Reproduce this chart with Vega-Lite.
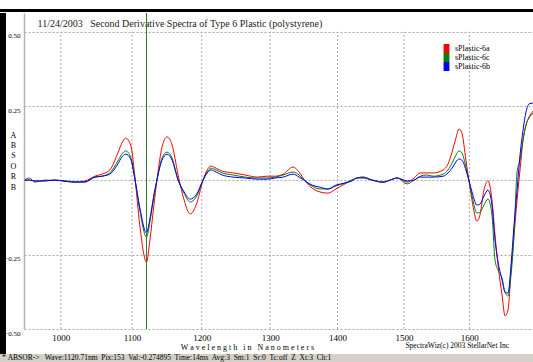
{
  "$schema": "https://vega.github.io/schema/vega-lite/v6.json",
  "background": "white",
  "padding": {"left": 0, "top": 9, "right": 0, "bottom": 0},
  "config": {"view": {"stroke": null}, "font": "Liberation Serif", "title": {"fontWeight": "normal", "font": "Liberation Serif"}},
  "spacing": 0,
  "bounds": "full",
  "vconcat": [
    {
      "width": 533, "height": 3,
      "view": {"fill": "#000000"},
      "data": {"values": []},
      "mark": {"type": "point", "opacity": 0, "size": 0}
    },
    {
      "hconcat": [
        {
          "width": 6, "height": 341,
          "view": {"fill": "#000000"},
          "data": {"values": []},
          "mark": {"type": "point", "opacity": 0, "size": 0}
        },
        {
          "width": 509, "height": 316,
          "title": {"text": "SpectraWiz(c) 2003 StellarNet Inc", "orient": "bottom", "frame": "group", "anchor": "end", "dx": -24, "offset": -9, "baseline": "top", "font": "Liberation Serif", "fontSize": 7.5, "fontWeight": "normal", "color": "#000000"},
          "resolve": {"axis": {"x": "independent"}},
          "layer": [
            {
              "data": {"values": [{"nm": 1000}, {"nm": 1100}, {"nm": 1200}, {"nm": 1300}, {"nm": 1400}, {"nm": 1500}, {"nm": 1600}]},
              "mark": {"type": "rule", "color": "#a9a9a9", "strokeDash": [2, 2], "strokeWidth": 1},
              "encoding": {
                "x": {"field": "nm", "type": "quantitative", "scale": {"type": "pow", "exponent": 0.786, "domain": [949, 1698.6], "nice": false, "zero": false}, "axis": null},
                "y": {"datum": -0.5, "type": "quantitative"}, "y2": {"datum": 0.5}
              }
            },
            {
              "data": {"values": [
                {"nm": 950, "sPlastic-6a": 0.000, "sPlastic-6c": 0.002, "sPlastic-6b": 0.001},
                {"nm": 956.7, "sPlastic-6a": 0.001, "sPlastic-6c": 0.008, "sPlastic-6b": 0.001},
                {"nm": 963.7, "sPlastic-6a": -0.002, "sPlastic-6c": -0.006, "sPlastic-6b": -0.002},
                {"nm": 977.6, "sPlastic-6a": -0.002, "sPlastic-6c": 0.001, "sPlastic-6b": -0.002},
                {"nm": 991.6, "sPlastic-6a": 0.001, "sPlastic-6c": 0.000, "sPlastic-6b": 0.001},
                {"nm": 1005.6, "sPlastic-6a": -0.002, "sPlastic-6c": -0.002, "sPlastic-6b": -0.003},
                {"nm": 1019.6, "sPlastic-6a": -0.006, "sPlastic-6c": -0.005, "sPlastic-6b": -0.006},
                {"nm": 1033.7, "sPlastic-6a": -0.002, "sPlastic-6c": -0.006, "sPlastic-6b": -0.005},
                {"nm": 1047.7, "sPlastic-6a": 0.014, "sPlastic-6c": 0.011, "sPlastic-6b": 0.011},
                {"nm": 1057.5, "sPlastic-6a": 0.021, "sPlastic-6c": 0.014, "sPlastic-6b": 0.014},
                {"nm": 1068.7, "sPlastic-6a": 0.035, "sPlastic-6c": 0.025, "sPlastic-6b": 0.021},
                {"nm": 1080.0, "sPlastic-6a": 0.092, "sPlastic-6c": 0.065, "sPlastic-6b": 0.055},
                {"nm": 1085.6, "sPlastic-6a": 0.125, "sPlastic-6c": 0.088, "sPlastic-6b": 0.078},
                {"nm": 1091.2, "sPlastic-6a": 0.142, "sPlastic-6c": 0.099, "sPlastic-6b": 0.088},
                {"nm": 1098.2, "sPlastic-6a": 0.119, "sPlastic-6c": 0.078, "sPlastic-6b": 0.072},
                {"nm": 1103.9, "sPlastic-6a": 0.018, "sPlastic-6c": 0.008, "sPlastic-6b": 0.008},
                {"nm": 1111.1, "sPlastic-6a": -0.150, "sPlastic-6c": -0.100, "sPlastic-6b": -0.090},
                {"nm": 1120.7, "sPlastic-6a": -0.275, "sPlastic-6c": -0.191, "sPlastic-6b": -0.177},
                {"nm": 1125.5, "sPlastic-6a": -0.201, "sPlastic-6c": -0.140, "sPlastic-6b": -0.130},
                {"nm": 1131.3, "sPlastic-6a": -0.083, "sPlastic-6c": -0.053, "sPlastic-6b": -0.049},
                {"nm": 1135.6, "sPlastic-6a": 0.001, "sPlastic-6c": 0.001, "sPlastic-6b": 0.001},
                {"nm": 1142.9, "sPlastic-6a": 0.112, "sPlastic-6c": 0.075, "sPlastic-6b": 0.068},
                {"nm": 1150.1, "sPlastic-6a": 0.146, "sPlastic-6c": 0.095, "sPlastic-6b": 0.088},
                {"nm": 1157.3, "sPlastic-6a": 0.119, "sPlastic-6c": 0.075, "sPlastic-6b": 0.068},
                {"nm": 1166.0, "sPlastic-6a": 0.018, "sPlastic-6c": 0.001, "sPlastic-6b": 0.001},
                {"nm": 1174.6, "sPlastic-6a": -0.066, "sPlastic-6c": -0.043, "sPlastic-6b": -0.039},
                {"nm": 1183.3, "sPlastic-6a": -0.113, "sPlastic-6c": -0.073, "sPlastic-6b": -0.063},
                {"nm": 1192.0, "sPlastic-6a": -0.083, "sPlastic-6c": -0.056, "sPlastic-6b": -0.049},
                {"nm": 1202.0, "sPlastic-6a": 0.001, "sPlastic-6c": 0.001, "sPlastic-6b": 0.001},
                {"nm": 1207.9, "sPlastic-6a": 0.035, "sPlastic-6c": 0.028, "sPlastic-6b": 0.025},
                {"nm": 1213.7, "sPlastic-6a": 0.048, "sPlastic-6c": 0.041, "sPlastic-6b": 0.035},
                {"nm": 1221.0, "sPlastic-6a": 0.041, "sPlastic-6c": 0.035, "sPlastic-6b": 0.028},
                {"nm": 1229.8, "sPlastic-6a": 0.031, "sPlastic-6c": 0.025, "sPlastic-6b": 0.018},
                {"nm": 1245.8, "sPlastic-6a": 0.025, "sPlastic-6c": 0.018, "sPlastic-6b": 0.011},
                {"nm": 1263.4, "sPlastic-6a": 0.018, "sPlastic-6c": 0.011, "sPlastic-6b": 0.008},
                {"nm": 1280.9, "sPlastic-6a": 0.011, "sPlastic-6c": 0.008, "sPlastic-6b": 0.004},
                {"nm": 1295.5, "sPlastic-6a": 0.014, "sPlastic-6c": 0.008, "sPlastic-6b": 0.004},
                {"nm": 1307.2, "sPlastic-6a": 0.014, "sPlastic-6c": 0.011, "sPlastic-6b": 0.008},
                {"nm": 1319.1, "sPlastic-6a": 0.021, "sPlastic-6c": 0.018, "sPlastic-6b": 0.011},
                {"nm": 1333.9, "sPlastic-6a": 0.045, "sPlastic-6c": 0.028, "sPlastic-6b": 0.021},
                {"nm": 1342.7, "sPlastic-6a": 0.028, "sPlastic-6c": 0.018, "sPlastic-6b": 0.011},
                {"nm": 1351.6, "sPlastic-6a": -0.002, "sPlastic-6c": -0.002, "sPlastic-6b": -0.002},
                {"nm": 1362.0, "sPlastic-6a": -0.026, "sPlastic-6c": -0.019, "sPlastic-6b": -0.016},
                {"nm": 1373.8, "sPlastic-6a": -0.039, "sPlastic-6c": -0.029, "sPlastic-6b": -0.023},
                {"nm": 1385.6, "sPlastic-6a": -0.043, "sPlastic-6c": -0.029, "sPlastic-6b": -0.029},
                {"nm": 1397.5, "sPlastic-6a": -0.029, "sPlastic-6c": -0.019, "sPlastic-6b": -0.016},
                {"nm": 1411.0, "sPlastic-6a": -0.012, "sPlastic-6c": -0.009, "sPlastic-6b": -0.009},
                {"nm": 1421.6, "sPlastic-6a": 0.001, "sPlastic-6c": 0.001, "sPlastic-6b": -0.002},
                {"nm": 1429.2, "sPlastic-6a": 0.008, "sPlastic-6c": 0.008, "sPlastic-6b": 0.008},
                {"nm": 1438.3, "sPlastic-6a": 0.011, "sPlastic-6c": 0.011, "sPlastic-6b": 0.008},
                {"nm": 1451.9, "sPlastic-6a": 0.001, "sPlastic-6c": 0.001, "sPlastic-6b": 0.001},
                {"nm": 1468.5, "sPlastic-6a": -0.006, "sPlastic-6c": -0.006, "sPlastic-6b": -0.006},
                {"nm": 1479.1, "sPlastic-6a": 0.001, "sPlastic-6c": 0.001, "sPlastic-6b": 0.001},
                {"nm": 1489.7, "sPlastic-6a": 0.008, "sPlastic-6c": 0.008, "sPlastic-6b": 0.008},
                {"nm": 1504.9, "sPlastic-6a": -0.006, "sPlastic-6c": -0.012, "sPlastic-6b": -0.002},
                {"nm": 1515.5, "sPlastic-6a": 0.008, "sPlastic-6c": 0.001, "sPlastic-6b": 0.001},
                {"nm": 1524.7, "sPlastic-6a": 0.025, "sPlastic-6c": 0.014, "sPlastic-6b": 0.011},
                {"nm": 1535.3, "sPlastic-6a": 0.025, "sPlastic-6c": 0.018, "sPlastic-6b": 0.011},
                {"nm": 1544.4, "sPlastic-6a": 0.025, "sPlastic-6c": 0.014, "sPlastic-6b": 0.011},
                {"nm": 1559.7, "sPlastic-6a": 0.035, "sPlastic-6c": 0.021, "sPlastic-6b": 0.014},
                {"nm": 1567.3, "sPlastic-6a": 0.055, "sPlastic-6c": 0.035, "sPlastic-6b": 0.025},
                {"nm": 1573.4, "sPlastic-6a": 0.095, "sPlastic-6c": 0.058, "sPlastic-6b": 0.041},
                {"nm": 1579.4, "sPlastic-6a": 0.142, "sPlastic-6c": 0.085, "sPlastic-6b": 0.062},
                {"nm": 1584.0, "sPlastic-6a": 0.173, "sPlastic-6c": 0.099, "sPlastic-6b": 0.072},
                {"nm": 1588.6, "sPlastic-6a": 0.159, "sPlastic-6c": 0.092, "sPlastic-6b": 0.068},
                {"nm": 1594.7, "sPlastic-6a": 0.068, "sPlastic-6c": 0.045, "sPlastic-6b": 0.035},
                {"nm": 1599.2, "sPlastic-6a": 0.001, "sPlastic-6c": 0.001, "sPlastic-6b": 0.001},
                {"nm": 1605.4, "sPlastic-6a": -0.083, "sPlastic-6c": -0.066, "sPlastic-6b": -0.049},
                {"nm": 1611.6, "sPlastic-6a": -0.137, "sPlastic-6c": -0.110, "sPlastic-6b": -0.083},
                {"nm": 1616.3, "sPlastic-6a": -0.117, "sPlastic-6c": -0.107, "sPlastic-6b": -0.080},
                {"nm": 1622.5, "sPlastic-6a": -0.033, "sPlastic-6c": -0.083, "sPlastic-6b": -0.053},
                {"nm": 1628.7, "sPlastic-6a": -0.002, "sPlastic-6c": -0.063, "sPlastic-6b": -0.033},
                {"nm": 1634.9, "sPlastic-6a": -0.066, "sPlastic-6c": -0.117, "sPlastic-6b": -0.083},
                {"nm": 1639.6, "sPlastic-6a": -0.184, "sPlastic-6c": -0.268, "sPlastic-6b": -0.201},
                {"nm": 1644.3, "sPlastic-6a": -0.285, "sPlastic-6c": -0.302, "sPlastic-6b": -0.275},
                {"nm": 1650.5, "sPlastic-6a": -0.386, "sPlastic-6c": -0.329, "sPlastic-6b": -0.335},
                {"nm": 1655.1, "sPlastic-6a": -0.456, "sPlastic-6c": -0.376, "sPlastic-6b": -0.376},
                {"nm": 1659.8, "sPlastic-6a": -0.436, "sPlastic-6c": -0.389, "sPlastic-6b": -0.379},
                {"nm": 1664.4, "sPlastic-6a": -0.302, "sPlastic-6c": -0.319, "sPlastic-6b": -0.285},
                {"nm": 1669.1, "sPlastic-6a": -0.184, "sPlastic-6c": -0.184, "sPlastic-6b": -0.150},
                {"nm": 1673.8, "sPlastic-6a": -0.066, "sPlastic-6c": 0.028, "sPlastic-6b": -0.033},
                {"nm": 1678.4, "sPlastic-6a": 0.035, "sPlastic-6c": 0.068, "sPlastic-6b": 0.085},
                {"nm": 1683.1, "sPlastic-6a": 0.136, "sPlastic-6c": 0.136, "sPlastic-6b": 0.169},
                {"nm": 1687.7, "sPlastic-6a": 0.186, "sPlastic-6c": 0.186, "sPlastic-6b": 0.230},
                {"nm": 1692.4, "sPlastic-6a": 0.213, "sPlastic-6c": 0.210, "sPlastic-6b": 0.257},
                {"nm": 1698.6, "sPlastic-6a": 0.233, "sPlastic-6c": 0.226, "sPlastic-6b": 0.260}
              ]},
              "transform": [{"fold": ["sPlastic-6a", "sPlastic-6c", "sPlastic-6b"], "as": ["series", "value"]}],
              "mark": {"type": "line", "strokeWidth": 1, "interpolate": "monotone"},
              "encoding": {
                "x": {
                  "field": "nm", "type": "quantitative",
                  "scale": {"type": "pow", "exponent": 0.786, "domain": [949, 1698.6], "nice": false, "zero": false},
                  "axis": {"orient": "bottom", "values": [1000, 1100, 1200, 1300, 1400, 1500, 1600], "format": "d", "labelFont": "Liberation Serif", "labelFontSize": 9, "labelColor": "#000000", "labelPadding": 4, "labelFlush": false, "ticks": false, "domain": false, "grid": false,
                    "title": "W a v e l e n g t h\u00a0\u00a0 i n\u00a0\u00a0 N a n o m e t e r s", "titleFont": "Liberation Serif", "titleFontSize": 8, "titleFontWeight": "normal", "titleColor": "#000000", "titleX": 223, "titleY": 18, "titleAlign": "center", "titleBaseline": "middle"}
                },
                "y": {
                  "field": "value", "type": "quantitative",
                  "scale": {"domain": [-0.5, 0.563], "nice": false, "zero": false},
                  "axis": {"values": [-0.5, -0.25, 0, 0.25, 0.5], "labelExpr": "datum.value == 0 ? '' : format(datum.value, '.2f')", "labelFont": "Liberation Serif", "labelFontSize": 7, "labelColor": "#000000", "labelBaseline": "top", "labelAlign": "right", "labelPadding": 4, "labelFlush": false, "labelOverlap": false, "ticks": false, "domain": true, "domainColor": "#b4b4b4", "domainWidth": 1.5, "grid": true, "gridColor": "#a9a9a9", "gridDash": [2, 2],
                    "title": ["A", "B", "S", "O", "R", "B"], "titleAngle": 0, "titleFont": "Liberation Serif", "titleFontSize": 8, "titleFontWeight": "normal", "titleColor": "#000000", "titleX": -11, "titleY": 118, "titleAlign": "center", "titleBaseline": "top", "titleLineHeight": 10.4}
                },
                "color": {
                  "field": "series", "type": "nominal",
                  "scale": {"domain": ["sPlastic-6a", "sPlastic-6c", "sPlastic-6b"], "range": ["#ff0000", "#008000", "#0000ff"]},
                  "legend": {"orient": "none", "legendX": 442, "legendY": 35, "title": null, "symbolType": "M-0.65,-1H0.65V1H-0.65Z", "symbolSize": 81, "rowPadding": 0, "padding": 0, "labelFont": "Liberation Serif", "labelFontSize": 8, "labelColor": "#000000", "labelOffset": 4, "symbolStrokeWidth": 0,
                    "encode": {"symbols": {"update": {"fill": {"scale": "color", "field": "value"}, "opacity": {"value": 1}}}}}
                }
              }
            },
            {
              "data": {"values": [{"nm": 1120.71}]},
              "mark": {"type": "rule", "color": "#2f7a2f", "strokeWidth": 1},
              "encoding": {
                "x": {
                  "field": "nm", "type": "quantitative",
                  "scale": {"type": "pow", "exponent": 0.786, "domain": [949, 1698.6], "nice": false, "zero": false},
                  "axis": {"orient": "top", "labels": false, "ticks": false, "domain": false, "grid": false,
                    "title": "11/24/2003\u00a0\u00a0 Second Derivative Spectra of Type 6 Plastic (polystyrene)", "titleFont": "Liberation Serif", "titleFontSize": 10, "titleFontWeight": "normal", "titleColor": "#1a1a1a", "titleX": 13, "titleY": 13.5, "titleAlign": "left", "titleBaseline": "alphabetic"}
                }
              }
            }
          ]
        }
      ],
      "spacing": 18,
      "bounds": "flush"
    },
    {
      "width": 533, "height": 9,
      "view": {"fill": "#d4d0c8"},
      "data": {"values": []},
      "mark": {"type": "point", "opacity": 0, "size": 0},
      "title": {"text": "*\u00a0ABSOR->\u00a0\u00a0 Wave:1120.71nm\u00a0 Pix:153\u00a0 Val:-0.274895\u00a0 Time:14ms\u00a0 Avg:3\u00a0 Sm:1\u00a0 Sr:0\u00a0 Tc:off\u00a0 Z\u00a0 Xt:3\u00a0 Ch:1", "orient": "bottom", "anchor": "start", "frame": "group", "dx": 2, "offset": -5, "baseline": "middle", "font": "Liberation Serif", "fontSize": 7.5, "fontWeight": "normal", "color": "#000000"}
    }
  ]
}
